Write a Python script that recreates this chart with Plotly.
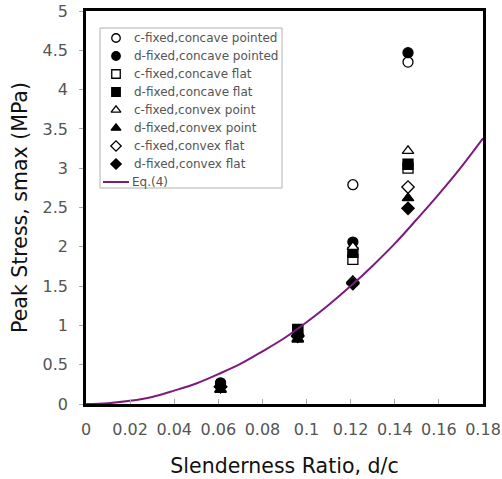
import plotly.graph_objects as go

# Slenderness ratios of the four test groups
ratio = [0.061, 0.096, 0.121, 0.146]

# Peak stress (MPa) per support / tip configuration (None = no test at that ratio)
c_concave_pointed = [0.26, 0.88, 2.79, 4.35]
d_concave_pointed = [0.27, 0.89, 2.06, 4.47]
c_concave_flat = [None, 0.93, 1.84, 3.00]
d_concave_flat = [None, 0.95, 1.93, 3.05]
c_convex_point = [0.19, 0.83, 2.00, 3.22]
d_convex_point = [0.18, 0.82, 1.56, 2.62]
c_convex_flat = [0.22, 0.87, 1.55, 2.76]
d_convex_flat = [0.22, 0.86, 1.53, 2.49]

# Eq.(4) curve samples
eq_x = [0.0, 0.01, 0.02, 0.03, 0.04, 0.05, 0.06, 0.07, 0.08, 0.09,
        0.10, 0.11, 0.12, 0.13, 0.14, 0.15, 0.16, 0.17, 0.18]
eq_y = [0.0, 0.01, 0.04, 0.09, 0.17, 0.26, 0.38, 0.51, 0.67, 0.84,
        1.04, 1.26, 1.50, 1.76, 2.04, 2.35, 2.67, 3.01, 3.38]

x_ticks = [0, 0.02, 0.04, 0.06, 0.08, 0.1, 0.12, 0.14, 0.16, 0.18]
x_tick_text = ["0", "0.02", "0.04", "0.06", "0.08", "0.1", "0.12", "0.14", "0.16", "0.18"]
y_ticks = [0, 0.5, 1, 1.5, 2, 2.5, 3, 3.5, 4, 4.5, 5]
y_tick_text = ["0", "0.5", "1", "1.5", "2", "2.5", "3", "3.5", "4", "4.5", "5"]

series_names = ["c-fixed,concave pointed", "d-fixed,concave pointed",
                "c-fixed,concave flat", "d-fixed,concave flat",
                "c-fixed,convex point", "d-fixed,convex point",
                "c-fixed,convex flat", "d-fixed,convex flat"]
series_values = [c_concave_pointed, d_concave_pointed,
                 c_concave_flat, d_concave_flat,
                 c_convex_point, d_convex_point,
                 c_convex_flat, d_convex_flat]
series_symbols = ["circle", "circle", "square", "square",
                  "triangle-up", "triangle-up", "diamond", "diamond"]
series_filled = [False, True, False, True, False, True, False, True]
curve_name = "Eq.(4)"
curve_color = "#7d1a7d"

FONT = "DejaVu Sans, Verdana, sans-serif"
W, H = 502, 479
L, R, T, B = 86, 19, 11, 75
PW, PH = W - L - R, H - T - B

fig = go.Figure()

for name, vals, sym, filled in zip(series_names, series_values,
                                   series_symbols, series_filled):
    fig.add_trace(go.Scatter(
        x=ratio, y=vals, mode="markers", name=name, showlegend=False,
        marker=dict(symbol=sym, size=10 if sym != "diamond" else 9.5,
                    color="black" if filled else "white",
                    line=dict(color="black", width=1.3)),
    ))

fig.add_trace(go.Scatter(
    x=eq_x, y=eq_y, mode="lines", name=curve_name, showlegend=False,
    line=dict(color=curve_color, width=2, shape="spline"),
))

# Hand-laid legend box on a pixel-unit overlay (origin at the plot's top-left)
box_x0, box_x1, box_y0, box_y1 = 14, 196, 17, 177
row0, row_step = 27, 18
mark_x, text_x = 30, 46

fig.add_shape(type="rect", xref="x2", yref="y2",
              x0=box_x0, x1=box_x1, y0=box_y0, y1=box_y1,
              line=dict(color="#b0b0b0", width=1), fillcolor="white",
              layer="below")

rows_y = [row0 + i * row_step for i in range(len(series_names))]
for name, sym, filled, ry in zip(series_names, series_symbols,
                                 series_filled, rows_y):
    fig.add_trace(go.Scatter(
        x=[mark_x], y=[ry], xaxis="x2", yaxis="y2", mode="markers",
        showlegend=False, hoverinfo="skip", cliponaxis=False,
        marker=dict(symbol=sym, size=8.5 if sym != "diamond" else 8,
                    color="black" if filled else "white",
                    line=dict(color="black", width=1.3)),
    ))
    fig.add_annotation(x=text_x, y=ry, xref="x2", yref="y2", text=name,
                       showarrow=False, xanchor="left", yanchor="middle",
                       font=dict(family=FONT, size=12, color="#555555"))

eq_row = row0 + len(series_names) * row_step
fig.add_shape(type="line", xref="x2", yref="y2",
              x0=17, x1=43, y0=eq_row, y1=eq_row,
              line=dict(color=curve_color, width=2))
fig.add_annotation(x=text_x - 2, y=eq_row, xref="x2", yref="y2", text=curve_name,
                   showarrow=False, xanchor="left", yanchor="middle",
                   font=dict(family=FONT, size=12, color="#555555"))

fig.update_layout(
    width=W, height=H,
    margin=dict(l=L, r=R, t=T, b=B),
    plot_bgcolor="white", paper_bgcolor="white",
    font=dict(family=FONT, color="#444444"),
    showlegend=False,
    xaxis=dict(
        range=[0, 0.18], tickvals=x_ticks, ticktext=x_tick_text,
        showgrid=False, zeroline=False, automargin=False,
        showline=True, linecolor="black", linewidth=2.5, mirror=True,
        ticks="inside", ticklen=5, tickcolor="#aaaaaa",
        ticklabelstandoff=9,
        tickfont=dict(family=FONT, size=16, color="#555555"),
        title=dict(text="Slenderness Ratio, d/c",
                   font=dict(family=FONT, size=20.5, color="#111111"),
                   standoff=21),
    ),
    yaxis=dict(
        range=[0, 5], tickvals=y_ticks, ticktext=y_tick_text,
        showgrid=False, zeroline=False, automargin=False,
        showline=True, linecolor="black", linewidth=2.5, mirror=True,
        ticks="outside", ticklen=4, tickcolor="#aaaaaa",
        ticklabelstandoff=8,
        tickfont=dict(family=FONT, size=16, color="#555555"),
        title=dict(text="Peak Stress, smax (MPa)",
                   font=dict(family=FONT, size=20.5, color="#111111"),
                   standoff=10),
    ),
    xaxis2=dict(range=[0, PW], overlaying="x", visible=False, fixedrange=True),
    yaxis2=dict(range=[PH, 0], overlaying="y", visible=False, fixedrange=True),
)

fig.write_html("out.html")
